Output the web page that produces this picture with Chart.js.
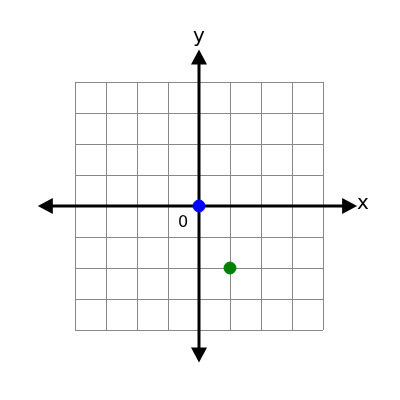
<!DOCTYPE html>
<html><head><script src="https://cdn.jsdelivr.net/npm/chart.js"></script>
<style>html,body{margin:0;padding:0;background:#fff}</style></head>
<body><div style="width:400px;height:400px"><canvas id="c"></canvas></div>
<script>
const gridTicks=[-4,-3,-2,-1,0,1,2,3,4];
const axisRangeX=[-5.2,5.1];
const axisRangeY=[-5.05,5.05];
const pointsX=[0,1];
const pointsY=[0,-2];
const pointColors=['#0000ff','#008000'];
const axisLabels={x:'x',y:'y',origin:'0'};

const gridPlugin={id:'grid',beforeDatasetsDraw(chart){
 const {ctx,scales:{x,y}}=chart;
 ctx.save();
 ctx.strokeStyle='#888';ctx.lineWidth=1;
 const x0=x.getPixelForValue(-4),x1=x.getPixelForValue(4),y0=y.getPixelForValue(4),y1=y.getPixelForValue(-4);
 gridTicks.forEach(t=>{const px=Math.round(x.getPixelForValue(t))+0.5,py=Math.round(y.getPixelForValue(t))+0.5;
  ctx.beginPath();ctx.moveTo(px,y0);ctx.lineTo(px,y1);ctx.stroke();
  ctx.beginPath();ctx.moveTo(x0,py);ctx.lineTo(x1,py);ctx.stroke();});
 ctx.strokeStyle='#000';ctx.fillStyle='#000';ctx.lineWidth=3;
 const ox=x.getPixelForValue(0),oy=y.getPixelForValue(0);
 const l=x.getPixelForValue(axisRangeX[0]),r=x.getPixelForValue(axisRangeX[1]);
 const t=y.getPixelForValue(axisRangeY[1]),b=y.getPixelForValue(axisRangeY[0]);
 ctx.beginPath();ctx.moveTo(l+10,oy);ctx.lineTo(r-10,oy);ctx.stroke();
 ctx.beginPath();ctx.moveTo(ox,t+10);ctx.lineTo(ox,b-10);ctx.stroke();
 const head=(pts)=>{ctx.beginPath();ctx.moveTo(...pts[0]);ctx.lineTo(...pts[1]);ctx.lineTo(...pts[2]);ctx.closePath();ctx.fill();};
 head([[l,oy],[l+15,oy-8],[l+15,oy+8]]);
 head([[r,oy],[r-15,oy-8],[r-15,oy+8]]);
 head([[ox,t],[ox-8,t+15],[ox+8,t+15]]);
 head([[ox,b],[ox-8,b-15],[ox+8,b-15]]);
 ctx.font='20px "DejaVu Sans"';ctx.textBaseline='middle';ctx.textAlign='left';
 ctx.fillText(axisLabels.x,r+0,oy-2);
 ctx.textAlign='center';ctx.fillText(axisLabels.y,ox,t-13);
 ctx.font='16px "DejaVu Sans"';ctx.fillText(axisLabels.origin,ox-16,oy+17);
 ctx.restore();}};

new Chart(document.getElementById('c'),{type:'scatter',
 data:{datasets:[{data:pointsX.map((v,i)=>({x:v,y:pointsY[i]})),backgroundColor:pointColors,borderColor:pointColors,pointRadius:6}]},
 options:{responsive:true,maintainAspectRatio:false,animation:false,
  layout:{padding:{left:13,right:15,top:20,bottom:8}},
  plugins:{legend:{display:false},tooltip:{enabled:false}},
  scales:{x:{display:false,min:-6,max:6},y:{display:false,min:-6,max:6}}},
 plugins:[gridPlugin]});
</script></body></html>
